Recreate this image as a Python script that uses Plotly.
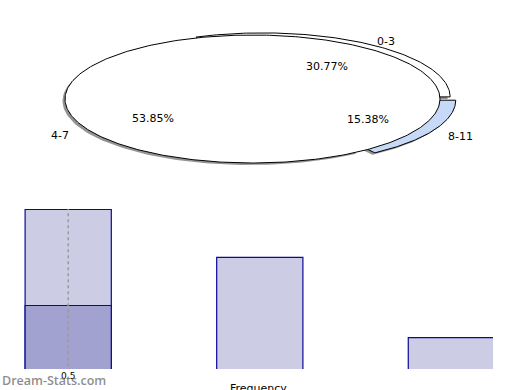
import numpy as np
import plotly.graph_objects as go

# ---------------- data ----------------
pie_labels = ["0-3", "4-7", "8-11"]
pie_counts = [4, 7, 2]
pie_pulled = [True, False, True]
pie_colors = ["#ffffff", "#ffffff", "#c6d9f7"]

bar_x = [0.5, 1.5, 2.5]
bar_values = [10, 7, 2]
bar_sub_x = [0.5]
bar_sub_values = [4]
tick_vals = [0.5]
tick_text = ["0.5"]
x_title = "Frequency"

# ---------------- geometry / style constants ----------------
W, H = 520, 390
PW = 493                       # plot width in px (right margin 27)
PIE_H = 195                    # pixel height of the pie domain (top half)
CX, CY, A, B = 252.5, 99, 187.5, 64   # ellipse centre & semi-axes in px
PULL_X, PULL_Y = 0.095, 0.04
SHADOW_DX, SHADOW_DY = -2.5 / A, -2 / B
Y_TOP = 10.02
Y_LO = 0.04

fig = go.Figure()

total = sum(pie_counts)
fracs = [c / total for c in pie_counts]
starts = np.cumsum([0] + fracs[:-1]) * 2 * np.pi
ends = np.cumsum(fracs) * 2 * np.pi


def wedge(a0, a1, ox, oy):
    t = np.linspace(a0, a1, 120)
    xs = np.concatenate([[ox], ox + np.cos(t), [ox]])
    ys = np.concatenate([[oy], oy + np.sin(t), [oy]])
    return xs, ys


offsets = []
for i in range(len(pie_counts)):
    mid = (starts[i] + ends[i]) / 2
    if pie_pulled[i]:
        offsets.append((PULL_X * np.cos(mid), PULL_Y * np.sin(mid)))
    else:
        offsets.append((0.0, 0.0))

# shadows
for i in range(len(pie_counts)):
    ox, oy = offsets[i]
    xs, ys = wedge(starts[i], ends[i], ox + SHADOW_DX, oy + SHADOW_DY)
    fig.add_trace(go.Scatter(x=xs, y=ys, mode="lines", fill="toself",
                             fillcolor="rgba(60,60,60,0.55)", line=dict(width=0),
                             xaxis="x2", yaxis="y2", hoverinfo="skip", showlegend=False))

# pulled slices
for i in range(len(pie_counts)):
    if not pie_pulled[i]:
        continue
    ox, oy = offsets[i]
    xs, ys = wedge(starts[i], ends[i], ox, oy)
    fig.add_trace(go.Scatter(x=xs, y=ys, mode="lines", fill="toself",
                             fillcolor=pie_colors[i], line=dict(color="black", width=1),
                             xaxis="x2", yaxis="y2", hoverinfo="skip", showlegend=False))

# full ellipse on top
t = np.linspace(0, 2 * np.pi, 400)
fig.add_trace(go.Scatter(x=np.cos(t), y=np.sin(t), mode="lines", fill="toself",
                         fillcolor="#ffffff", line=dict(color="black", width=1),
                         xaxis="x2", yaxis="y2", hoverinfo="skip", showlegend=False))

# labels
for i in range(len(pie_counts)):
    mid = (starts[i] + ends[i]) / 2
    ox, oy = offsets[i]
    fig.add_annotation(x=ox + 0.6 * np.cos(mid), y=oy + 0.6 * np.sin(mid) - 0.02,
                       xref="x2", yref="y2", text=f"{fracs[i] * 100:.2f}%",
                       showarrow=False, font=dict(family="DejaVu Sans", size=11, color="black"))
    fig.add_annotation(x=ox + 1.16 * np.cos(mid), y=oy + 1.12 * np.sin(mid) - 0.05,
                       xref="x2", yref="y2", text=pie_labels[i],
                       showarrow=False, font=dict(family="DejaVu Sans", size=11, color="black"))

# bars
fig.add_trace(go.Bar(x=bar_x, y=bar_values, width=0.45,
                     marker=dict(color="#ccccE4", line=dict(color="#0a0a96", width=1.2)),
                     hoverinfo="skip", showlegend=False))
fig.add_trace(go.Bar(x=bar_sub_x, y=bar_sub_values, width=0.45,
                     marker=dict(color="#a2a2d0", line=dict(color="#0a0a96", width=1.2)),
                     hoverinfo="skip", showlegend=False))

# dotted grid line at the tick, drawn above the bars
fig.add_trace(go.Scatter(x=[tick_vals[0], tick_vals[0]], y=[Y_LO - 0.2, Y_TOP], mode="lines",
                         line=dict(color="#9a9a9a", width=1.5, dash="dot"),
                         cliponaxis=False, hoverinfo="skip", showlegend=False))

px_per_unit = 191
first_px = 68
x_lo = bar_x[0] - first_px / px_per_unit
x_hi = bar_x[0] + (PW - first_px - 1.5) / px_per_unit

fig.update_layout(
    width=W, height=H,
    margin=dict(l=0, r=W - PW, t=0, b=0),
    paper_bgcolor="white", plot_bgcolor="white",
    barmode="overlay",
    font=dict(family="DejaVu Sans"),
    xaxis=dict(domain=[0, 1], range=[x_lo, x_hi], tickvals=tick_vals, ticktext=tick_text,
               showgrid=False, zeroline=False, showline=False, ticks="",
               tickfont=dict(size=9, color="black"),
               automargin=False, anchor="y"),
    yaxis=dict(domain=[21 / H, 181 / H], range=[Y_LO, Y_TOP], visible=False, fixedrange=True),
    xaxis2=dict(domain=[0, 1], range=[-CX / A, (PW - CX) / A], visible=False, anchor="y2"),
    yaxis2=dict(domain=[1 - PIE_H / H, 1], range=[-(PIE_H - CY) / B, CY / B],
                visible=False, anchor="x2"),
)

# axis title (sits at the very bottom, partly cut like the original)
fig.add_annotation(text=x_title, xref="x domain", yref="paper", x=0.525, y=(H - 380) / H,
                   xanchor="center", yanchor="top", showarrow=False,
                   font=dict(family="DejaVu Sans", size=11, color="black"))

fig.add_annotation(text="Dream-Stats.com", xref="paper", yref="paper", x=0, y=10 / H,
                   xanchor="left", yanchor="middle", showarrow=False,
                   font=dict(family="Open Sans", size=12.5, color="rgba(120,120,120,0.85)",
                             weight=600))

fig.write_html("out.html", config={"displayModeBar": False},
               post_script="document.body.style.margin='0';document.body.style.overflow='hidden';")
